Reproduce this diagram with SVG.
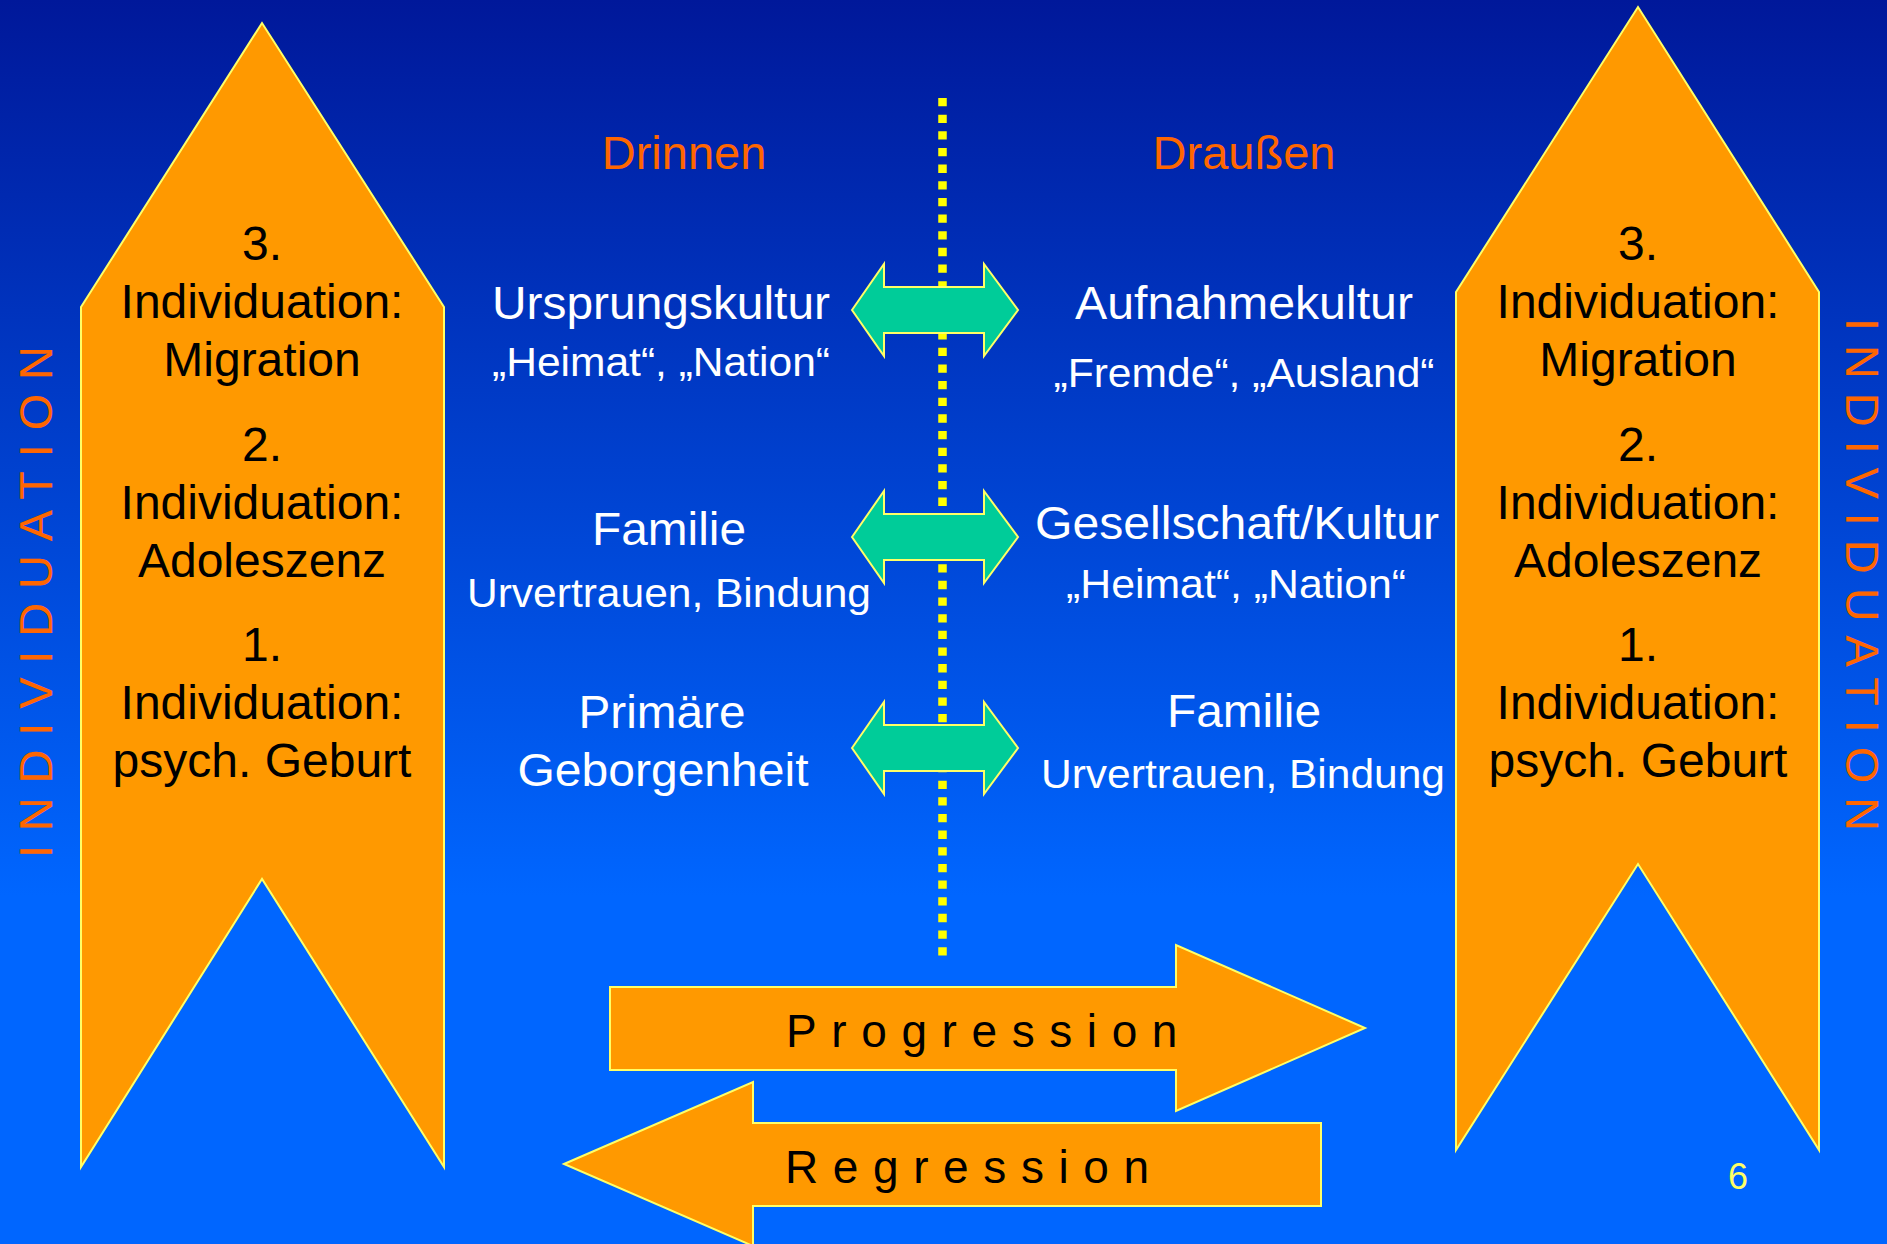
<svg xmlns="http://www.w3.org/2000/svg" width="1887" height="1244" viewBox="0 0 1887 1244">
<defs>
<linearGradient id="bg" x1="0" y1="0" x2="0" y2="1244" gradientUnits="userSpaceOnUse">
<stop offset="0" stop-color="#00189A"/>
<stop offset="0.72" stop-color="#0066FF"/>
<stop offset="1" stop-color="#0066FF"/>
</linearGradient>
<style>
.t{font-family:"Liberation Sans",Arial,sans-serif}
.pen{fill:#FF9900;stroke:#FFFF66;stroke-width:2;stroke-linejoin:miter}
.grn{fill:#00CC99;stroke:#FFFF66;stroke-width:2}
.blk{fill:#000;font-size:48px;text-anchor:middle}
.big{fill:#fff;font-size:47px;text-anchor:middle}
.sm{fill:#fff;font-size:40px;text-anchor:middle}
.hd{fill:#FF6600;font-size:47px;text-anchor:middle}
.vt{fill:#FF6600;font-size:47px}
.arrtxt{fill:#000;font-size:46px;letter-spacing:14.6px}
</style>
</defs>
<rect width="1887" height="1244" fill="url(#bg)"/>

<g id="connectors">
<line x1="942.5" y1="98" x2="942.5" y2="956" stroke="#FFFF00" stroke-width="8.5" stroke-dasharray="8.3 8.35"/>
<polygon class="grn" points="852,310 884,264 884,287 984,287 984,264 1018,310 984,356 984,333 884,333 884,356"/>
<polygon class="grn" points="852,537 884,491 884,514 984,514 984,491 1018,537 984,583 984,560 884,560 884,583"/>
<polygon class="grn" points="852,748 884,702 884,725 984,725 984,702 1018,748 984,794 984,771 884,771 884,794"/>
</g>

<g id="left-pennant">
<polygon class="pen" points="81,307 262,23 444,307 444,1167 262,879 81,1167"/>
<text class="t blk" x="262" y="260">3.</text>
<text class="t blk" x="262" y="318">Individuation:</text>
<text class="t blk" x="262" y="376">Migration</text>
<text class="t blk" x="262" y="461">2.</text>
<text class="t blk" x="262" y="519">Individuation:</text>
<text class="t blk" x="262" y="577">Adoleszenz</text>
<text class="t blk" x="262" y="661">1.</text>
<text class="t blk" x="262" y="719">Individuation:</text>
<text class="t blk" x="262" y="777">psych. Geburt</text>
</g>

<g id="right-pennant">
<polygon class="pen" points="1456,292 1638,7 1819,292 1819,1150 1638,864 1456,1150"/>
<text class="t blk" x="1638" y="260">3.</text>
<text class="t blk" x="1638" y="318">Individuation:</text>
<text class="t blk" x="1638" y="376">Migration</text>
<text class="t blk" x="1638" y="461">2.</text>
<text class="t blk" x="1638" y="519">Individuation:</text>
<text class="t blk" x="1638" y="577">Adoleszenz</text>
<text class="t blk" x="1638" y="661">1.</text>
<text class="t blk" x="1638" y="719">Individuation:</text>
<text class="t blk" x="1638" y="777">psych. Geburt</text>
</g>

<g id="left-vertical-label">
<text class="t vt" transform="translate(52,858) rotate(-90)" letter-spacing="13.8">INDIVIDUATION</text>
</g>
<g id="right-vertical-label">
<text class="t vt" transform="translate(1846,318) rotate(90)" letter-spacing="13.9">INDIVIDUATION</text>
</g>

<g id="header-drinnen"><text class="t hd" x="684" y="169">Drinnen</text></g>
<g id="header-draussen"><text class="t hd" x="1244" y="169">Draußen</text></g>

<g id="node-ursprungskultur">
<text class="t big" x="661" y="319" textLength="338" lengthAdjust="spacingAndGlyphs">Ursprungskultur</text>
<text class="t sm" x="661" y="376" textLength="338" lengthAdjust="spacingAndGlyphs">„Heimat“, „Nation“</text>
</g>
<g id="node-aufnahmekultur">
<text class="t big" x="1244" y="319" textLength="338" lengthAdjust="spacingAndGlyphs">Aufnahmekultur</text>
<text class="t sm" x="1244" y="387" textLength="381" lengthAdjust="spacingAndGlyphs">„Fremde“, „Ausland“</text>
</g>
<g id="node-familie-left">
<text class="t big" x="669" y="545" textLength="154" lengthAdjust="spacingAndGlyphs">Familie</text>
<text class="t sm" x="669" y="607" textLength="404" lengthAdjust="spacingAndGlyphs">Urvertrauen, Bindung</text>
</g>
<g id="node-gesellschaft">
<text class="t big" x="1237" y="539" textLength="404" lengthAdjust="spacingAndGlyphs">Gesellschaft/Kultur</text>
<text class="t sm" x="1236" y="598" textLength="340" lengthAdjust="spacingAndGlyphs">„Heimat“, „Nation“</text>
</g>
<g id="node-primaere">
<text class="t big" x="662" y="728" textLength="167" lengthAdjust="spacingAndGlyphs">Primäre</text>
<text class="t big" x="663" y="786" textLength="291" lengthAdjust="spacingAndGlyphs">Geborgenheit</text>
</g>
<g id="node-familie-right">
<text class="t big" x="1244" y="727" textLength="154" lengthAdjust="spacingAndGlyphs">Familie</text>
<text class="t sm" x="1243" y="788" textLength="404" lengthAdjust="spacingAndGlyphs">Urvertrauen, Bindung</text>
</g>

<g id="progression">
<polygon class="pen" points="610,987 1176,987 1176,945 1365,1028 1176,1111 1176,1070 610,1070"/>
<text class="t arrtxt" x="786" y="1047">Progression</text>
</g>
<g id="regression">
<polygon class="pen" points="564,1164 753,1082 753,1123 1321,1123 1321,1206 753,1206 753,1246"/>
<text class="t arrtxt" x="785" y="1183">Regression</text>
</g>

<g id="page-number"><text class="t" x="1738" y="1189" font-size="36" fill="#FFFF66" text-anchor="middle">6</text></g>
</svg>
